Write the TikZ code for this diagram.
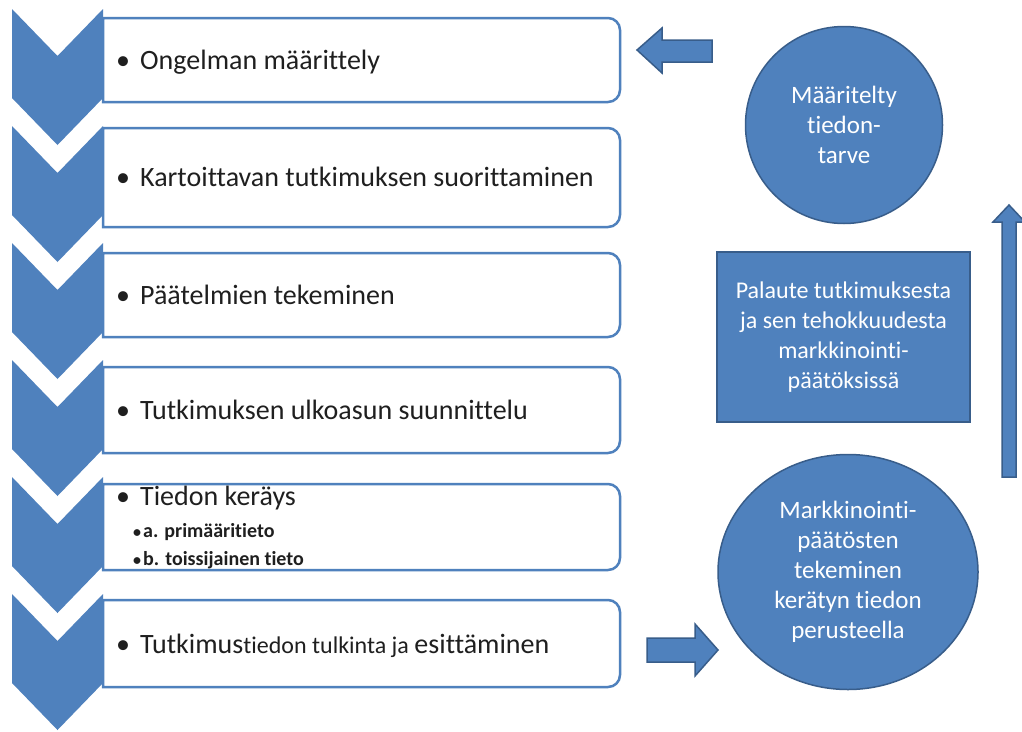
\documentclass[tikz,border=0pt]{standalone}
\usepackage{fontspec}
\setmainfont{Carlito}[Ligatures={NoCommon}]
\usetikzlibrary{shapes.geometric}
\definecolor{accent}{HTML}{4F81BD}
\definecolor{accentdark}{HTML}{385D8A}
\definecolor{listtext}{HTML}{1F1F1F}
\begin{document}
\begin{tikzpicture}[x=1pt,y=1pt,
  chev/.style={fill=accent},
  boxline/.style={draw=accent,line width=2.5pt,fill=white},
  itemtext/.style={anchor=base west,inner sep=0pt,text=listtext,font=\fontsize{28}{34}\selectfont},
  subtext/.style={anchor=base west,inner sep=0pt,text=listtext,font=\fontsize{20}{24}\selectfont\bfseries},
  blockarrow/.style={fill=accent,draw=accentdark,line width=1.5pt,line join=miter},
  bluecircle/.style={fill=accent,draw=accentdark,line width=1.5pt,inner sep=0pt,text=white,align=center,font=\fontsize{25}{30}\selectfont},
]
\useasboundingbox (0,0) rectangle (1022,-731);
\fill[white] (0,0) rectangle (1022,-731);

% chevrons
\foreach \i in {0,...,5}{
  \pgfmathsetmacro\yy{9+117*\i}
  \fill[chev] (12,-\yy) -- (57.5,{-\yy-47}) -- (103,-\yy) -- (103,{-\yy-89}) -- (57.5,{-\yy-136}) -- (12,{-\yy-89}) -- cycle;
}

% list boxes
\foreach \t/\b in {18/102,128/227,253/337,367/453,484/570,600/687}{
  \draw[boxline] (103,-\t) -- (608,-\t) arc[start angle=90,end angle=0,radius=12pt] -- (620,{-\b+12}) arc[start angle=0,end angle=-90,radius=12pt] -- (103,-\b) -- cycle;
}

% list texts
\node[itemtext] (t1) at (116,-69) {\makebox[24pt][l]{•}Ongelman määrittely};
\node[itemtext] (t2) at (116,-186) {\makebox[24pt][l]{•}Kartoittavan tutkimuksen suorittaminen};
\node[itemtext] (t3) at (116,-304) {\makebox[24pt][l]{•}Päätelmien tekeminen};
\node[itemtext] (t4) at (116,-419) {\makebox[24pt][l]{•}Tutkimuksen ulkoasun suunnittelu};
\node[itemtext] (t5) at (116,-505) {\makebox[24pt][l]{•}Tiedon keräys};
\node[subtext] (t5a) at (133,-537) {\makebox[10pt][l]{\fontsize{16}{20}\selectfont•}a. primääritieto};
\node[subtext] (t5b) at (133,-565) {\makebox[10pt][l]{\fontsize{16}{20}\selectfont•}b. toissijainen tieto};
\node[itemtext] (t6) at (116,-653) {\makebox[24pt][l]{•}Tutkimus{\fontsize{24}{30}\selectfont tiedon tulkinta ja }esittäminen};

% right side
\node[bluecircle,circle,minimum size=197pt] (need) at (844,-125) {Määritelty\\tiedon-\\tarve};
\node[bluecircle,rectangle,minimum width=253pt,minimum height=170pt,font=\fontsize{24}{30}\selectfont] (feedback) at (843.5,-337) {Palaute tutkimuksesta\\ja sen tehokkuudesta\\markkinointi-\\päätöksissä};
\node[bluecircle,ellipse,minimum width=260pt,minimum height=235pt] (decide) at (848,-572) {Markkinointi-\\päätösten\\tekeminen\\kerätyn tiedon\\perusteella};

% block arrows
\draw[blockarrow] (637,-50) -- (662,-28) -- (662,-40) -- (712,-40) -- (712,-62) -- (662,-62) -- (662,-73) -- cycle;
\draw[blockarrow] (647,-638) -- (695,-638) -- (695,-624) -- (718,-650) -- (695,-676) -- (695,-662) -- (647,-662) -- cycle;
\draw[blockarrow] (1009,-205) -- (1025,-222) -- (1016,-222) -- (1016,-477) -- (1002,-477) -- (1002,-222) -- (993,-222) -- cycle;
\end{tikzpicture}
\end{document}
